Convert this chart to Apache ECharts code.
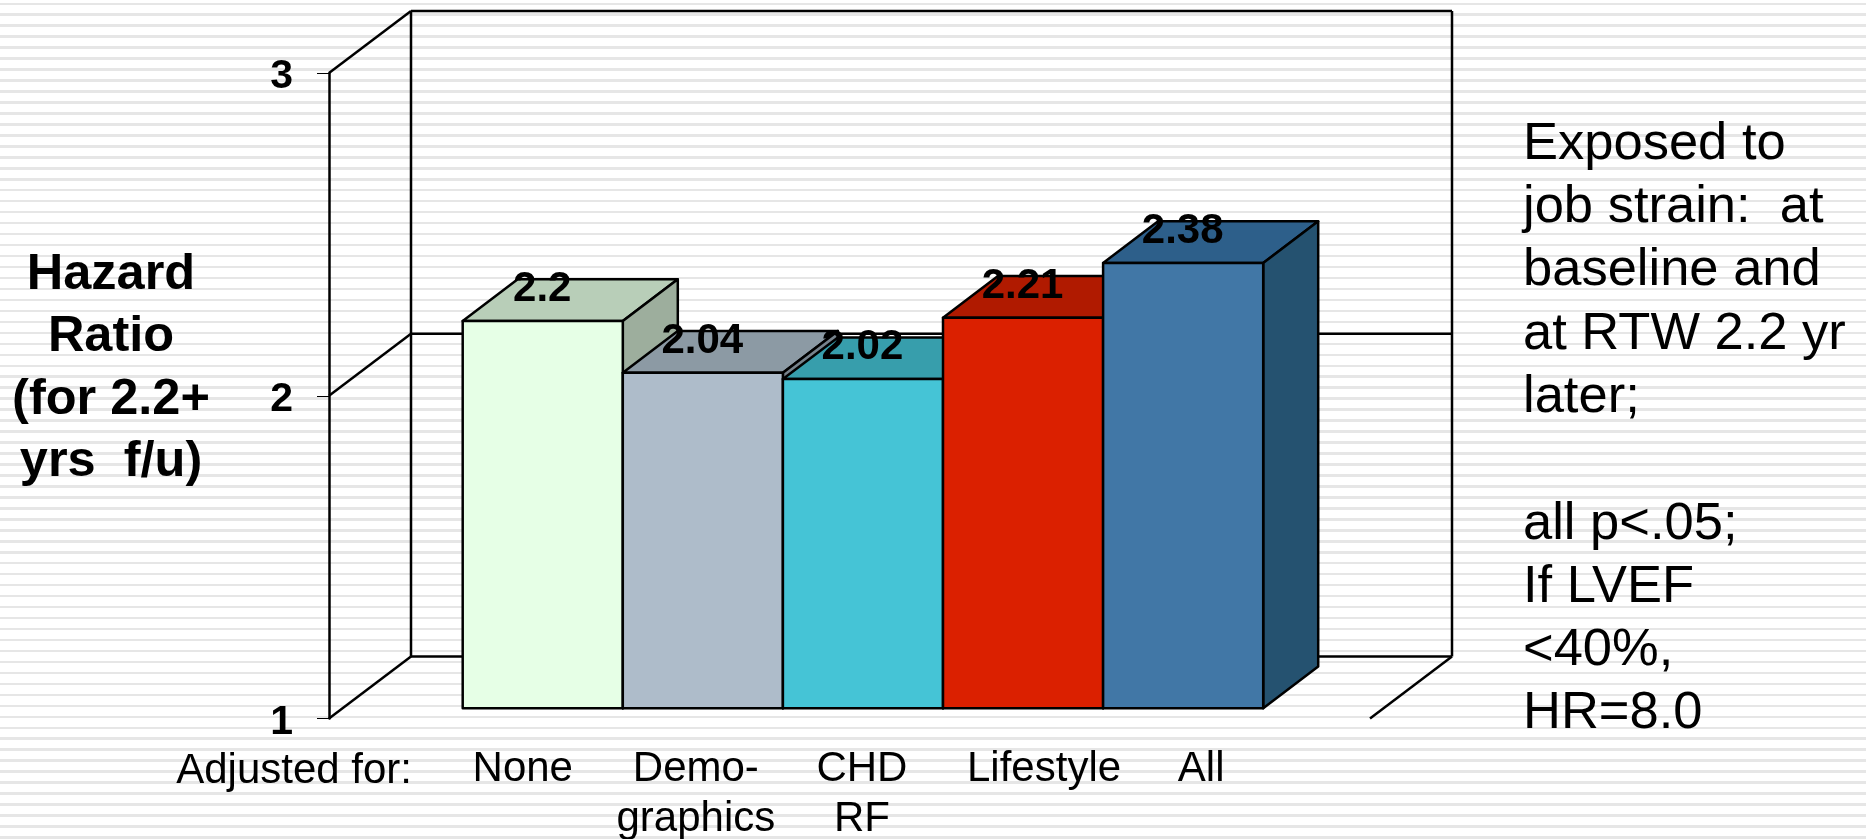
<!DOCTYPE html>
<html><head><meta charset="utf-8">
<style>
html,body{margin:0;padding:0;width:1866px;height:839px;overflow:hidden;
background:repeating-linear-gradient(180deg,#fff 0,#fff 2.5px,#e6e6e6 2.5px,#e6e6e6 5px,#fff 5px,#fff 10.97px);}
#c{width:1866px;height:839px;}
</style>
<script src="https://cdn.jsdelivr.net/npm/echarts@6/dist/echarts.min.js"></script>
</head><body><div id="c"></div>
<script>
const categories = ['None', 'Demo-\ngraphics', 'CHD\nRF', 'Lifestyle', 'All'];
const hazardRatios = [2.2, 2.04, 2.02, 2.21, 2.38];
const valueLabels = ['2.2', '2.04', '2.02', '2.21', '2.38'];
const yTicks = [1, 2, 3];
const frontColors = ['#E6FFE6', '#AEBCCA', '#45C4D6', '#DB2000', '#4177A6'];
const topColors = ['#B8CEB8', '#8C9AA4', '#379EAC', '#B01A00', '#2D5F8A'];
const sideColors = ['#9DAE9D', '#77838C', '#2F8794', '#961600', '#255270'];
const yAxisTitle = 'Hazard\nRatio\n(for 2.2+\nyrs  f/u)';
const xAxisTitle = 'Adjusted for:';
const noteText = 'Exposed to\njob strain:  at\nbaseline and\nat RTW 2.2 yr\nlater;\n\nall p<.05;\nIf LVEF\n<40%,\nHR=8.0';

// layout constants
const FONT = '"Liberation Sans", Arial, sans-serif';
const labelShift = [-20, -7, -1, 21, 18];
const WALL_DX = 82, WALL_DY = 62, BAR_DX = 55, BAR_DY = 41.7, LINE_W = 2.5;

const chart = echarts.init(document.getElementById('c'), null, {renderer: 'canvas'});
const lineStyle = {stroke: '#000', lineWidth: LINE_W, fill: null};

function renderWall(params, api) {
  const cs = params.coordSys;
  const v = api.value(0);
  const y = api.coord([0, v])[1];
  const x0 = cs.x, x1 = cs.x + cs.width;
  const kids = [
    {type: 'line', shape: {x1: x0, y1: y, x2: x0 + WALL_DX, y2: y - WALL_DY}, style: lineStyle},
    {type: 'line', shape: {x1: x0 + WALL_DX, y1: y - WALL_DY, x2: x1 + WALL_DX, y2: y - WALL_DY}, style: lineStyle}
  ];
  if (v === yTicks[0]) {
    kids.push({type: 'line', shape: {x1: x1, y1: y, x2: x1 + WALL_DX, y2: y - WALL_DY}, style: lineStyle});
  }
  if (v === yTicks[yTicks.length - 1]) {
    const yb = api.coord([0, yTicks[0]])[1] - WALL_DY;
    kids.push({type: 'line', shape: {x1: x0 + WALL_DX, y1: y - WALL_DY, x2: x0 + WALL_DX, y2: yb}, style: lineStyle});
    kids.push({type: 'line', shape: {x1: x1 + WALL_DX, y1: y - WALL_DY, x2: x1 + WALL_DX, y2: yb}, style: lineStyle});
  }
  return {type: 'group', children: kids};
}

function renderBar(params, api) {
  const i = params.dataIndex;
  const c = api.coord([i, api.value(1)]);
  const base = api.coord([i, 1])[1];
  const w = api.size([1, 0])[0];
  const l = c[0] - w / 2, r = c[0] + w / 2, t = c[1];
  const edge = {stroke: '#000', lineWidth: LINE_W, lineJoin: 'round'};
  return {type: 'group', children: [
    {type: 'polygon', shape: {points: [[l, t], [r, t], [r + BAR_DX, t - BAR_DY], [l + BAR_DX, t - BAR_DY]]},
      style: Object.assign({fill: topColors[i]}, edge)},
    {type: 'polygon', shape: {points: [[r, t], [r + BAR_DX, t - BAR_DY], [r + BAR_DX, base - BAR_DY], [r, base]]},
      style: Object.assign({fill: sideColors[i]}, edge)},
    {type: 'rect', shape: {x: l, y: t, width: w, height: base - t},
      style: Object.assign({fill: frontColors[i]}, edge)},
    {type: 'text', z2: 100, style: {x: c[0] - 0.5, y: t - 31.5, text: valueLabels[i], align: 'center', verticalAlign: 'middle',
      fill: '#000', font: 'bold 42px ' + FONT}}
  ]};
}

chart.setOption({
  animation: false,
  backgroundColor: 'transparent',
  grid: [
    {left: 329, top: 73, width: 1041, height: 645.5, outerBoundsMode: 'none'},
    {left: 462.7, top: 62.8, width: 800.5, height: 645.5, outerBoundsMode: 'none'}
  ],
  xAxis: [
    {gridIndex: 0, type: 'value', min: 0, max: 1, show: false},
    {gridIndex: 1, type: 'category', data: categories.map((c, i) => ({
        value: c,
        textStyle: {padding: labelShift[i] < 0 ? [0, -2 * labelShift[i], 0, 0] : [0, 0, 0, 2 * labelShift[i]]}
      })),
      axisLine: {show: false}, axisTick: {show: false},
      axisLabel: {interval: 0, margin: 36, color: '#000', fontFamily: FONT, fontSize: 42, lineHeight: 50, verticalAlign: 'top'}}
  ],
  yAxis: [
    {gridIndex: 0, type: 'value', min: 1, max: 3, interval: 1,
      axisLine: {show: true, onZero: false, lineStyle: {color: '#000', width: LINE_W}},
      axisTick: {show: true, length: 12, lineStyle: {color: '#000', width: 1}},
      splitLine: {show: false},
      axisLabel: {margin: 36, color: '#000', fontFamily: FONT, fontWeight: 'bold', fontSize: 41, verticalAlign: 'top', lineHeight: 8}},
    {gridIndex: 1, type: 'value', min: 1, max: 3, show: false}
  ],
  series: [
    {type: 'custom', name: 'Walls', xAxisIndex: 0, yAxisIndex: 0, z: 1, silent: true,
      data: yTicks.map(v => [v]), encode: {y: 0}, renderItem: renderWall},
    {type: 'custom', name: 'Hazard ratio', xAxisIndex: 1, yAxisIndex: 1, z: 3, silent: true,
      data: hazardRatios.map((v, i) => [i, v]), encode: {x: 0, y: 1}, renderItem: renderBar}
  ],
  graphic: [
    {type: 'text', x: 111, y: 244, z: 5, style: {text: yAxisTitle, fill: '#000', font: 'bold 50.5px ' + FONT, lineHeight: 62.3, align: 'center'}},
    {type: 'text', x: 412, y: 746, z: 5, style: {text: xAxisTitle, fill: '#000', font: '42px ' + FONT, lineHeight: 50, align: 'right'}},
    {type: 'text', x: 1523, y: 112.6, z: 5, style: {text: noteText, fill: '#000', font: '52.5px ' + FONT, lineHeight: 63.3, align: 'left'}}
  ]
});
</script></body></html>
